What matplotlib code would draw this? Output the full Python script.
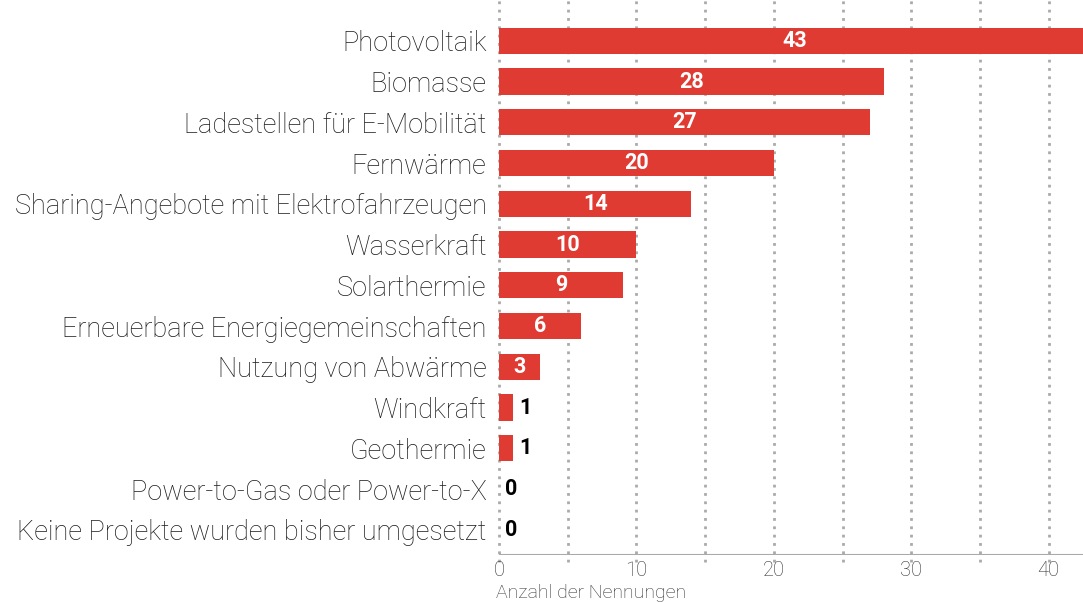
import numpy as np
import matplotlib
matplotlib.use("Agg")
import matplotlib.pyplot as plt

kategorien = [
    "Photovoltaik",
    "Biomasse",
    "Ladestellen für E-Mobilität",
    "Fernwärme",
    "Sharing-Angebote mit Elektrofahrzeugen",
    "Wasserkraft",
    "Solarthermie",
    "Erneuerbare Energiegemeinschaften",
    "Nutzung von Abwärme",
    "Windkraft",
    "Geothermie",
    "Power-to-Gas oder Power-to-X",
    "Keine Projekte wurden bisher umgesetzt",
]
nennungen = [43, 28, 27, 20, 14, 10, 9, 6, 3, 1, 1, 0, 0]
x_ticks = [0, 10, 20, 30, 40]

rot = "#DF3B32"
grau = "#AAAAAA"

plt.rcParams["font.family"] = ["Roboto", "DejaVu Sans"]

fig = plt.figure(figsize=(10.83, 6.02), dpi=100)
ax = fig.add_axes([0.4608, 0.078, 0.5392, 0.922])

y = np.arange(len(kategorien))
ax.barh(y, nennungen, height=0.64, color=rot, zorder=3)

ax.set_xlim(0, 42.5)
ax.set_ylim(12.62, -1.0)

# gepunktete Gitterlinien alle 5
for g in np.arange(0, 45, 5):
    ax.axvline(g, color=grau, linestyle=(0, (1, 2)), linewidth=2, zorder=1,
               ymin=-0.012, clip_on=False)
ax.axhline(12.62, color=grau, linewidth=1.5, zorder=2)

for s in ax.spines.values():
    s.set_visible(False)

ax.set_yticks(y)
ax.set_yticklabels(kategorien, fontsize=19.5, fontweight="light", color="#1a1a1a")
ax.tick_params(axis="y", length=0, pad=9)
ax.set_xticks(x_ticks)
ax.set_xticklabels([str(t) for t in x_ticks], fontsize=14.5, fontweight="light", color="#333333")
ax.tick_params(axis="x", length=0, pad=4)

for yi, v in zip(y, nennungen):
    if v >= 3:
        ax.text(v / 2, yi, str(v), ha="center", va="center", color="white",
                fontsize=15.5, fontweight="bold", zorder=4)
    else:
        ax.text(v + 0.45, yi, str(v), ha="left", va="center", color="black",
                fontsize=15.5, fontweight="bold", zorder=4)

fig.text(0.458, 0.0, "Anzahl der Nennungen", fontsize=14, fontweight="light",
         color="#333333", ha="left", va="bottom")

fig.savefig("out.png", dpi=100)
